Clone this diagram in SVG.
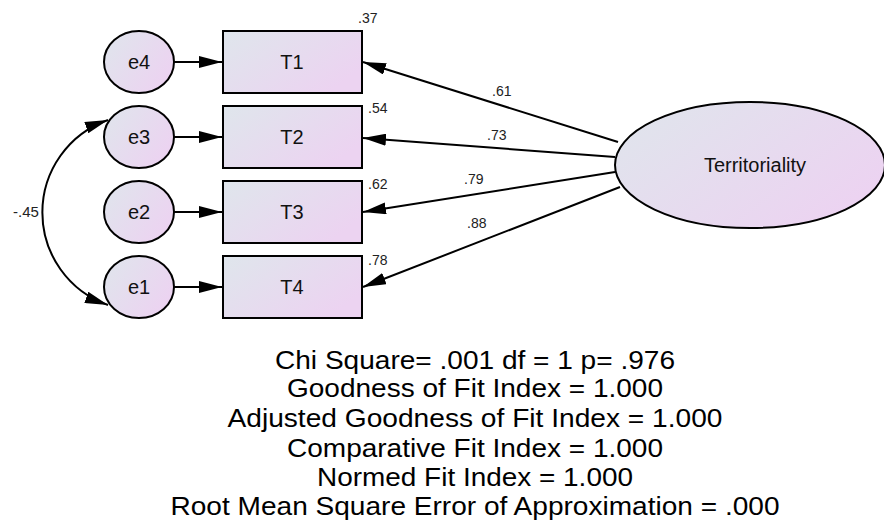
<svg xmlns="http://www.w3.org/2000/svg" width="884" height="523" viewBox="0 0 884 523">
<defs>
<linearGradient id="g" x1="0" y1="0" x2="1" y2="0.6">
<stop offset="0" stop-color="#dfe6ec"/>
<stop offset="1" stop-color="#ecd3f1"/>
</linearGradient>
<marker id="ah" viewBox="0 0 23 12" refX="23" refY="6" markerWidth="23" markerHeight="12" markerUnits="userSpaceOnUse" orient="auto-start-reverse">
<path d="M0,0 L23,6 L0,12 Z" fill="#000"/>
</marker>
<style>
.n{fill:url(#g);stroke:#000;stroke-width:2}
.c{stroke:#000;stroke-width:2;fill:none;marker-end:url(#ah)}
.t{font-family:"Liberation Sans",Arial,sans-serif;font-size:20px;text-anchor:middle;fill:#111}
.s{font-family:"Liberation Sans",Arial,sans-serif;font-size:14px;fill:#222}
.b{font-family:"Liberation Sans",Arial,sans-serif;font-size:25px;text-anchor:middle;fill:#000}
</style>
</defs>
<g id="connectors">
<line class="c" x1="174" y1="62" x2="222" y2="62"/>
<line class="c" x1="174" y1="137" x2="222" y2="137"/>
<line class="c" x1="174" y1="212" x2="222" y2="212"/>
<line class="c" x1="174" y1="287" x2="222" y2="287"/>
<line class="c" x1="618" y1="142" x2="363" y2="62"/>
<line class="c" x1="615" y1="157" x2="363" y2="138"/>
<line class="c" x1="615" y1="172" x2="363" y2="212"/>
<line class="c" x1="620" y1="187" x2="363" y2="287"/>
<path class="c" style="marker-start:url(#ah)" d="M108,120 A98,98 0 0 0 108,305"/>
</g>
<g id="e4"><ellipse class="n" cx="139" cy="62" rx="35" ry="31"/><text class="t" x="139" y="69">e4</text></g>
<g id="e3"><ellipse class="n" cx="139" cy="137" rx="35" ry="31"/><text class="t" x="139" y="144">e3</text></g>
<g id="e2"><ellipse class="n" cx="139" cy="212" rx="35" ry="31"/><text class="t" x="139" y="219">e2</text></g>
<g id="e1"><ellipse class="n" cx="139" cy="287" rx="35" ry="31"/><text class="t" x="139" y="294">e1</text></g>
<g id="T1"><rect class="n" x="223" y="31" width="139" height="62"/><text class="t" x="292" y="69">T1</text></g>
<g id="T2"><rect class="n" x="223" y="106" width="139" height="62"/><text class="t" x="292" y="144">T2</text></g>
<g id="T3"><rect class="n" x="223" y="181" width="139" height="62"/><text class="t" x="292" y="219">T3</text></g>
<g id="T4"><rect class="n" x="223" y="256" width="139" height="62"/><text class="t" x="292" y="294">T4</text></g>
<g id="Territoriality"><ellipse class="n" cx="750" cy="165" rx="135" ry="63"/><text class="t" x="755" y="172">Territoriality</text></g>
<g id="labels">
<text class="s" x="358" y="23">.37</text>
<text class="s" x="368" y="113">.54</text>
<text class="s" x="368" y="189">.62</text>
<text class="s" x="368" y="265">.78</text>
<text class="s" x="13" y="217" style="font-size:15px">-.45</text>
<text class="s" x="492" y="96">.61</text>
<text class="s" x="487" y="140">.73</text>
<text class="s" x="464" y="184">.79</text>
<text class="s" x="467" y="228">.88</text>
</g>
<g id="fit">
<text class="b" x="475" y="369" textLength="400" lengthAdjust="spacingAndGlyphs">Chi Square= .001 df = 1 p= .976</text>
<text class="b" x="475" y="397" textLength="376" lengthAdjust="spacingAndGlyphs">Goodness of Fit Index = 1.000</text>
<text class="b" x="475" y="427" textLength="495" lengthAdjust="spacingAndGlyphs">Adjusted Goodness of Fit Index = 1.000</text>
<text class="b" x="475" y="457" textLength="376" lengthAdjust="spacingAndGlyphs">Comparative Fit Index = 1.000</text>
<text class="b" x="475" y="486" textLength="316" lengthAdjust="spacingAndGlyphs">Normed Fit Index = 1.000</text>
<text class="b" x="475" y="515" textLength="609" lengthAdjust="spacingAndGlyphs">Root Mean Square Error of Approximation = .000</text>
</g>
</svg>
